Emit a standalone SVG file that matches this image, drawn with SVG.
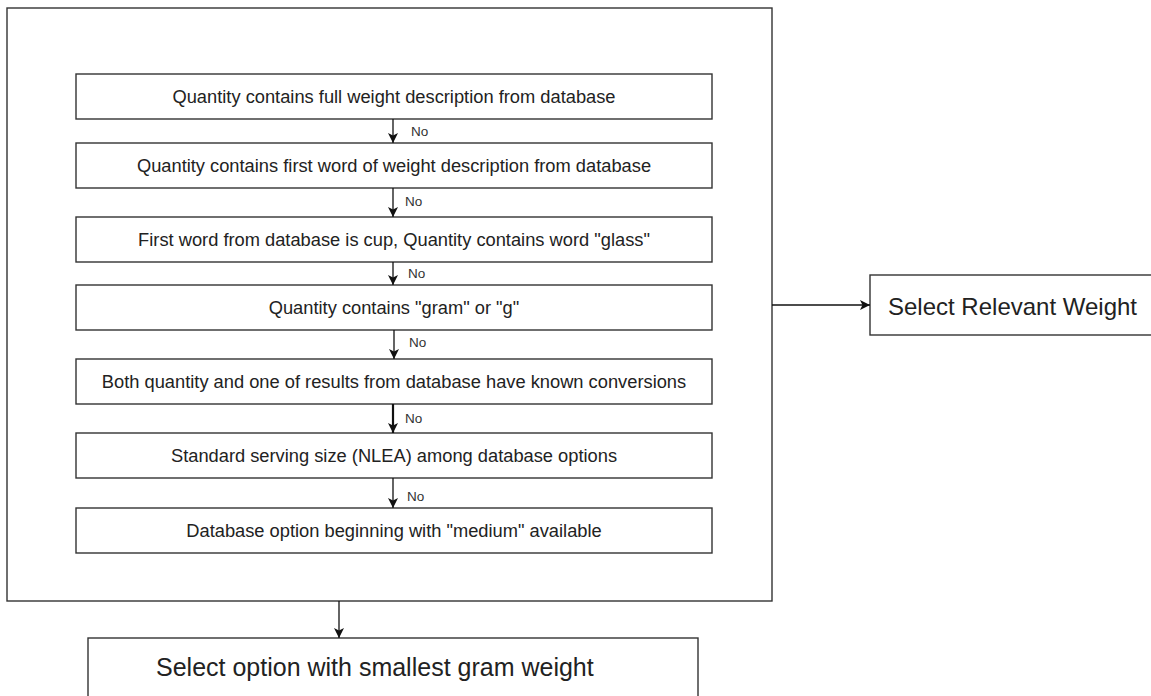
<svg xmlns="http://www.w3.org/2000/svg" width="1151" height="696" viewBox="0 0 1151 696">
  <defs>
    <style>
      .box { fill: #ffffff; stroke: #333333; stroke-width: 1.4; }
      .step { font-family: "Liberation Sans", Arial, sans-serif; font-size: 18.3px; fill: #222222; text-anchor: middle; dominant-baseline: central; }
      .big { font-family: "Liberation Sans", Arial, sans-serif; font-size: 24px; fill: #222222; dominant-baseline: central; }
      .lbl { font-family: "Liberation Sans", Arial, sans-serif; font-size: 13.5px; fill: #333333; dominant-baseline: central; }
      .edge { stroke: #111111; stroke-width: 1.3; fill: none; marker-end: url(#arrow); }
      .edge.thick { stroke-width: 2.2; }
    </style>
    <marker id="arrow" viewBox="0 0 10 10" refX="10" refY="5" markerUnits="userSpaceOnUse" markerWidth="10" markerHeight="10" orient="auto">
      <path d="M0,0 L10,5 L0,10 L2.5,5 Z" fill="#111111"/>
    </marker>
  </defs>

  <rect width="1151" height="696" fill="#ffffff"/>

  <!-- container of the weight-matching rules -->
  <g id="rules-container">
    <rect class="box" x="7" y="8" width="765" height="593"/>
  </g>

  <g id="rule-1">
    <rect class="box" x="76" y="74" width="636" height="45"/>
    <text class="step" x="394" y="96.5">Quantity contains full weight description from database</text>
  </g>
  <g id="rule-2">
    <rect class="box" x="76" y="143" width="636" height="45"/>
    <text class="step" x="394" y="165.5">Quantity contains first word of weight description from database</text>
  </g>
  <g id="rule-3">
    <rect class="box" x="76" y="217" width="636" height="45"/>
    <text class="step" x="394" y="239.5">First word from database is cup, Quantity contains word "glass"</text>
  </g>
  <g id="rule-4">
    <rect class="box" x="76" y="285" width="636" height="45"/>
    <text class="step" x="394" y="307.5">Quantity contains "gram" or "g"</text>
  </g>
  <g id="rule-5">
    <rect class="box" x="76" y="359" width="636" height="45"/>
    <text class="step" x="394" y="381.5">Both quantity and one of results from database have known conversions</text>
  </g>
  <g id="rule-6">
    <rect class="box" x="76" y="433" width="636" height="45"/>
    <text class="step" x="394" y="455.5">Standard serving size (NLEA) among database options</text>
  </g>
  <g id="rule-7">
    <rect class="box" x="76" y="508" width="636" height="45"/>
    <text class="step" x="394" y="530.5">Database option beginning with "medium" available</text>
  </g>

  <g id="select-relevant">
    <rect class="box" x="870" y="275" width="290" height="60"/>
    <text class="big" x="888" y="306">Select Relevant Weight</text>
  </g>

  <g id="select-smallest">
    <rect class="box" x="88" y="638" width="610" height="70"/>
    <text class="big" x="156" y="667" style="font-size:25px">Select option with smallest gram weight</text>
  </g>

  <!-- connectors -->
  <g id="connectors">
    <path class="edge" d="M393,119 L393,143"/>
    <path class="edge" d="M393,188 L393,217"/>
    <path class="edge" d="M393,262 L393,285"/>
    <path class="edge" d="M394,330 L394,359"/>
    <path class="edge thick" d="M393,404 L393,433"/>
    <path class="edge" d="M393,478 L393,508"/>
    <path class="edge" d="M772,305 L870,305"/>
    <path class="edge" d="M339,601 L339,638"/>

    <text class="lbl" x="411" y="131">No</text>
    <text class="lbl" x="405" y="201">No</text>
    <text class="lbl" x="408" y="273">No</text>
    <text class="lbl" x="409" y="342">No</text>
    <text class="lbl" x="405" y="418">No</text>
    <text class="lbl" x="407" y="496">No</text>
  </g>
</svg>
